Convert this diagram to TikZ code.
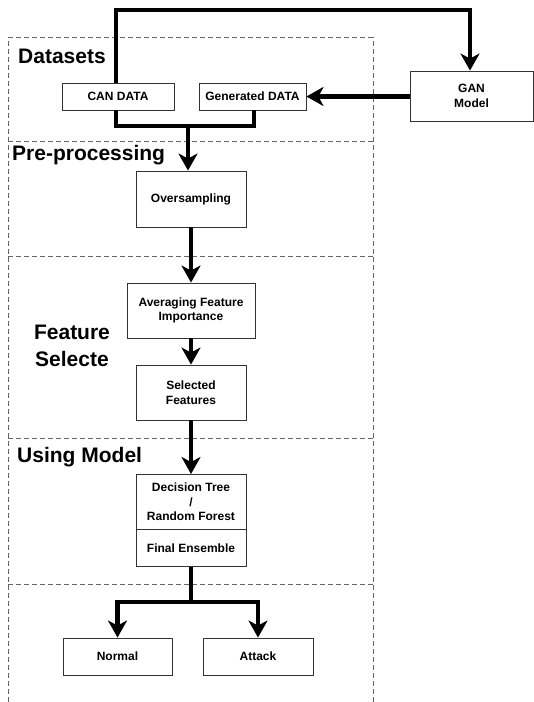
\documentclass[tikz,border=0pt]{standalone}
\usepackage{fontspec}
\setmainfont{Liberation Sans}
\usetikzlibrary{arrows.meta}
\begin{document}
\begin{tikzpicture}[x=1pt,y=-1pt,
  section/.style={draw=black!60,dash pattern=on 5pt off 3pt,line width=0.9pt},
  box/.style={draw=black!80,line width=0.9pt,fill=white,align=center,font=\bfseries\fontsize{12}{14.5}\selectfont,inner sep=0pt},
  flow/.style={line width=4.3pt},
  arr/.style={flow,-{Stealth[length=17pt 0 0,width=19pt 0 0,inset=5pt]}},
  seclabel/.style={font=\bfseries\fontsize{21}{24}\selectfont,inner sep=0pt,anchor=west}
]
\useasboundingbox (0,0) rectangle (534,702);
% sections (dashed frames)
\draw[section] (8,702) -- (8,37);
\draw[section] (373,702) -- (373,37);
\foreach \yy in {37,141,256,438,584}{
  \draw[section] (8,\yy) -- (373,\yy);
}
% labels
\node[seclabel] (l1) at (18,56) {Datasets};
\node[seclabel] (l2) at (12,155) {Pre-processing};
\node[seclabel,anchor=center,align=center,font=\bfseries\fontsize{21}{27}\selectfont] (l3) at (72,346) {Feature\\Selecte};
\node[seclabel] (l4) at (17,457) {Using Model};
% boxes
\node[box,minimum width=112pt,minimum height=27pt] (can) at (118,96.5) {CAN DATA};
\node[box,minimum width=107pt,minimum height=27pt] (gen) at (252.5,96.5) {Generated DATA};
\node[box,minimum width=123pt,minimum height=50pt] (gan) at (471.5,96) {GAN\\Model};
\node[box,minimum width=110pt,minimum height=56pt] (over) at (191,199) {Oversampling};
\node[box,minimum width=128pt,minimum height=55pt] (avg) at (191,310.5) {Averaging Feature\\Importance};
\node[box,minimum width=110pt,minimum height=55pt] (sel) at (191,392.5) {Selected\\Features};
\node[box,minimum width=110pt,minimum height=55pt,anchor=north] (dt) at (191,474) {Decision Tree\\/\\Random Forest};
\node[box,minimum width=110pt,minimum height=37pt,anchor=north] (fe) at (191,529) {Final Ensemble};
\node[box,minimum width=109pt,minimum height=37pt] (normal) at (117.5,656.5) {Normal};
\node[box,minimum width=110pt,minimum height=37pt] (attack) at (258,656.5) {Attack};
% connectors
\coordinate (top1) at (116,10);
\coordinate (top2) at (470,10);
\draw[arr] (can.north -| top1) -- (top1) -- (top2) -- (gan.north -| top2);
\draw[arr] (gan.west |- gen.east) -- (gen.east);
\coordinate (j1) at (188,126);
\draw[flow] (can.south -| 116,0) |- (j1) -| (gen.south -| 254,0);
\draw[arr] (j1) -- (over.north -| j1);
\draw[arr] (over.south) -- (avg.north);
\draw[arr] (avg.south) -- (sel.north);
\draw[arr] (sel.south) -- (dt.north);
\coordinate (j2) at (191,602);
\draw[flow] (fe.south) -- (j2);
\draw[arr] (j2) -| (normal.north);
\draw[arr] (j2) -| (attack.north);
\end{tikzpicture}
\end{document}
